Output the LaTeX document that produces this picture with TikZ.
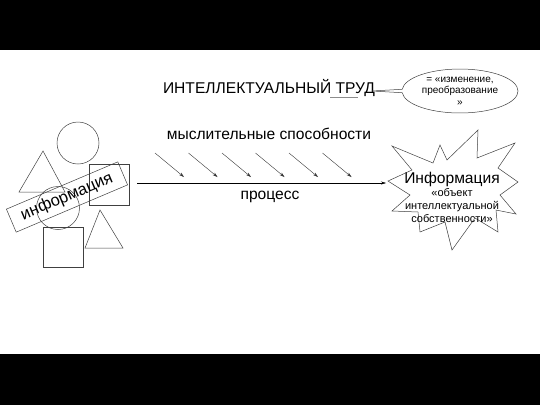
\documentclass[tikz,border=0pt]{standalone}
\usepackage{fontspec}
\setmainfont{Liberation Sans}
\usetikzlibrary{shapes.callouts,arrows.meta}

\begin{document}
\begin{tikzpicture}[x=1pt,y=-1pt,>={Stealth[length=5pt,width=3pt]},
    figline/.style={draw=black!75,line width=0.5pt},
    bigtext/.style={font=\fontsize{15.6}{17}\selectfont}]
    \useasboundingbox (0,0) rectangle (540,405);
    % black bars
    \fill[black] (0,0) rectangle (540,50);
    \fill[black] (0,354) rectangle (540,405);

    % left figure: shapes
    \draw[figline] (78,143) circle (21);
    \draw[figline] (43,151) -- (19,192) -- (65,192) -- cycle;
    \draw[figline] (89,164) rectangle (129,205);
    \draw[figline] (58,208) circle (21.5);
    \draw[figline] (43,227) rectangle (83,267);
    \draw[figline] (100,210) -- (85,248) -- (123,248) -- cycle;
    \node[figline,rotate=23,minimum width=121,minimum height=25,
          font=\fontsize{16.5}{18}\selectfont] (info) at (67,197) {информация};

    % title and callout
    \node[bigtext] (title) at (269,88) {ИНТЕЛЛЕКТУАЛЬНЫЙ ТРУД};
    \draw[black!45] (330,97) -- (358,97);
    \coordinate (tip) at (372,91);
    \node[ellipse callout,figline,align=center,inner sep=0pt,
          minimum width=116,minimum height=44,
          callout absolute pointer={(tip)},callout pointer arc=9,
          font=\fontsize{10}{11.5}\selectfont] (eq) at (460,91)
        {= «изменение,\\преобразование\\»};

    % abilities
    \node[bigtext] (abil) at (269,134) {мыслительные способности};
    \foreach \i in {0,...,5}
        \draw[->,black!80] (155+33.5*\i,153) -- ++(29,24);

    % process
    \coordinate (start) at (137,183);
    \coordinate (end) at (386,183);
    \draw[->] (start) -- (end);
    \node[bigtext] (proc) at (270,197) {процесс};

    % star
    \draw[figline] (388,181) -- (412,170) -- (392,146) -- (433,163) -- (440,145)
        -- (447,160) -- (478,130) -- (477,158) -- (515,143) -- (498,168)
        -- (518,182) -- (500,195) -- (516,214) -- (496,210) -- (498,232)
        -- (475,218) -- (452,250) -- (445,222) -- (420,232) -- (418,212)
        -- (392,211) -- (410,195) -- cycle;
    \node[align=center,font=\fontsize{11}{13}\selectfont] (result) at (452,197)
        {{\fontsize{15.6}{16}\selectfont Информация}\\«объект\\интеллектуальной\\собственности»};
\end{tikzpicture}
\end{document}
